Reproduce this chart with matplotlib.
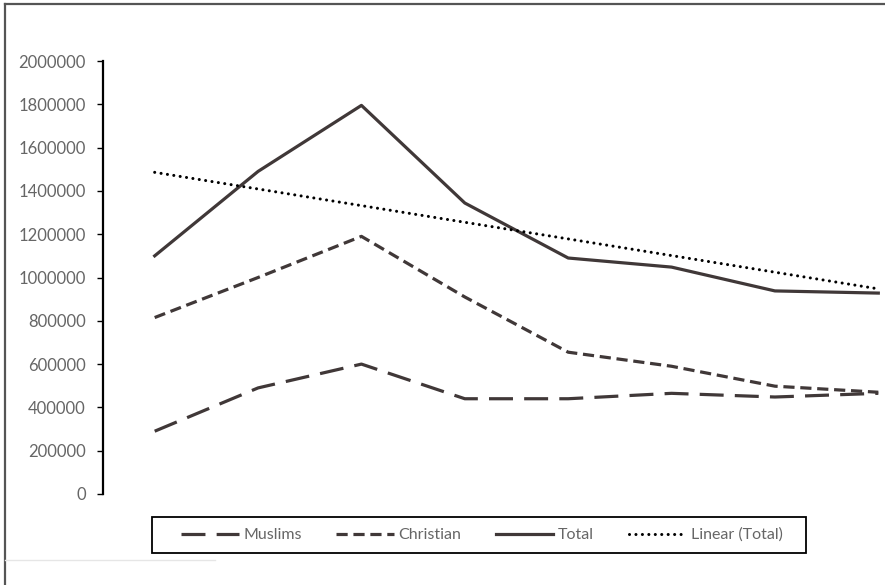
import numpy as np
import matplotlib.pyplot as plt
from matplotlib.lines import Line2D
from matplotlib.patches import Rectangle
from matplotlib.ticker import FuncFormatter

# population counts per census period (no period labels on the axis)
periods = [1, 2, 3, 4, 5, 6, 7, 8]
muslims = [290000, 490000, 600000, 440000, 440000, 465000, 448000, 465000]
christian = [815000, 1000000, 1190000, 910000, 655000, 590000, 498000, 470000]
total = [1100000, 1490000, 1795000, 1344000, 1090000, 1048000, 938000, 928000]

line_col = '#403838'
text_col = '#666666'

plt.rcParams['font.family'] = ['Lato', 'DejaVu Sans']

W, H = 885, 585
fig = plt.figure(figsize=(W / 100, H / 100), dpi=100)
ax = fig.add_axes([103 / W, 91 / H, 827 / W, 433 / H])

x = np.arange(len(periods))
ax.plot(x, muslims, color=line_col, linewidth=2.3, linestyle=(0, (7.5, 3.5)),
        label='Muslims')
ax.plot(x, christian, color=line_col, linewidth=2.3, linestyle=(0, (3.5, 1.8)),
        label='Christian')
ax.plot(x, total, color=line_col, linewidth=2.3, label='Total')

# linear trend fitted to the totals
coef = np.polyfit(periods, total, 1)
trend = np.polyval(coef, periods)
ax.plot(x, trend, color='black', linewidth=2.2, linestyle=(0, (0.01, 2.1)),
        dash_capstyle='round', label='Linear (Total)')

ax.set_xlim(-0.5, 7.5)
ax.set_ylim(0, 2000000)
ax.set_yticks(np.arange(0, 2000001, 200000))
ax.yaxis.set_major_formatter(FuncFormatter(lambda v, p: f'{int(v)}'))
ax.set_xticks([])
for side in ['top', 'right', 'bottom']:
    ax.spines[side].set_visible(False)
ax.spines['left'].set_linewidth(1.6)
ax.spines['left'].set_color('black')
ax.tick_params(axis='y', direction='out', length=4, width=1, color='black',
               pad=8.5, labelsize=12, labelcolor=text_col)

# legend entries without frame, box drawn separately
leg = ax.legend(loc='center', bbox_to_anchor=(482 / W, 1 - 535 / H),
                bbox_transform=fig.transFigure, ncol=4, frameon=False,
                fontsize=11.5, handlelength=3.6,
                handletextpad=0.3, columnspacing=2.15, borderpad=0.3)
for t in leg.get_texts():
    t.set_color(text_col)
fig.add_artist(Rectangle((152 / W, 1 - 553 / H), 654 / W, 36 / H,
                         transform=fig.transFigure, fill=False,
                         edgecolor='black', linewidth=1.3))

# outer chart frame
fig.add_artist(Line2D([5 / W, 1], [1 - 4 / H, 1 - 4 / H],
                      transform=fig.transFigure, color='#555555', linewidth=1.6))
fig.add_artist(Line2D([5 / W, 5 / W], [0, 1 - 4 / H],
                      transform=fig.transFigure, color='#555555', linewidth=1.6))
fig.add_artist(Line2D([5 / W, 215 / W], [1 - 560 / H, 1 - 560 / H],
                      transform=fig.transFigure, color='#e6e6e6', linewidth=1.0))

fig.savefig('out.png', dpi=100)
